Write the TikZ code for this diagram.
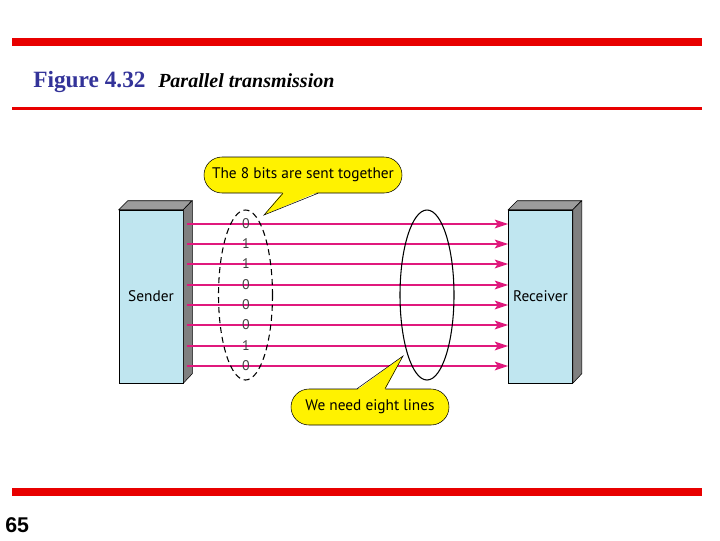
\documentclass[tikz,border=0pt]{standalone}
\usepackage{fontspec}
\setmainfont{Liberation Serif}
\setsansfont{PT Sans}
\newfontfamily\pagefont{Liberation Sans}
\usepackage{tikz}
\usetikzlibrary{arrows.meta,shapes.geometric,shapes.misc}
\definecolor{slidered}{HTML}{E80000}
\definecolor{capblue}{HTML}{333399}
\definecolor{boxblue}{HTML}{C0E6F0}
\definecolor{sidegray}{HTML}{808080}
\definecolor{topgray}{HTML}{9C9C9C}
\definecolor{wire}{HTML}{E0197D}
\definecolor{bubble}{HTML}{FFF200}
\tikzset{station/.style={rectangle,draw=black,fill=boxblue,minimum width=48pt,minimum height=129.75pt,inner sep=0pt,font=\sffamily\fontsize{11.5}{13}\selectfont}}
\tikzset{wireline/.style={draw=wire,line width=1.5pt,-{Stealth[length=10pt,width=6.5pt,inset=2pt]}}}
\tikzset{bit/.style={font=\sffamily\fontsize{10.5}{12}\selectfont,text=black!75,inner sep=0pt}}
\tikzset{bundle/.style={ellipse,draw=black,line width=0.8pt,minimum width=40.5pt,minimum height=127.5pt,inner sep=0pt}}
\tikzset{pill/.style={rounded rectangle,draw=black,fill=bubble,minimum height=27pt,inner sep=0pt,font=\sffamily\fontsize{11.5}{13}\selectfont}}
\tikzset{bar/.style={draw=slidered,line width=6pt}}

\begin{document}
\begin{tikzpicture}[x=0.75pt,y=-0.75pt]
\useasboundingbox (0,0) rectangle (720,540);
% slide frame
\draw[bar] (12,42) -- (702,42);
\draw[slidered,line width=2.25pt] (12,108.5) -- (702,108.5);
\draw[bar] (12,492) -- (702,492);
\node[anchor=base west,inner sep=0pt,text=capblue,font=\fontsize{17.5}{20}\selectfont\bfseries] (fignum) at (33,87) {Figure 4.32};
\node[anchor=base west,inner sep=0pt,font=\fontsize{15}{18}\selectfont\bfseries\itshape] (figtitle) at (158,87) {Parallel transmission};
\node[anchor=base west,inner sep=0pt,font=\pagefont\bfseries\fontsize{16}{18}\selectfont] (pageno) at (5,532) {65};
% the two stations
\node[station] (sender) at (151,296.5) {Sender};
\node[station] (receiver) at (540.5,296.5) {Receiver};
\foreach \st in {sender,receiver} {
  \filldraw[fill=topgray] (\st.north west) -- ++(9,-9) -- ++(64,0) -- (\st.north east) -- cycle;
  \filldraw[fill=sidegray] (\st.north east) -- ++(9,-9) -- ++(0,173) -- (\st.south east) -- cycle;
}
% eight wires
\foreach \b/\yy [count=\i from 0] in {0/224,1/244,1/264,0/285,0/305,0/325,1/346,0/366} {
  \coordinate (s\i) at (187,\yy);
  \draw[wireline] (s\i) -- (receiver.west |- s\i);
  \node[bit] (b\i) at (246,\yy) {\b};
}
\node[bundle,dash pattern=on 4.5pt off 3pt] (sentgrp) at (245.5,295) {};
\node[bundle] (linegrp) at (427,295) {};
% callouts
\node[pill,minimum width=148.5pt] (together) at (303,175) {The 8 bits are sent together};
\coordinate (tip1) at (264,215);
\fill[bubble] ([xshift=-15pt,yshift=1pt]together.south) -- (tip1) -- ([xshift=11.25pt,yshift=1pt]together.south) -- cycle;
\draw ([xshift=-15pt]together.south) -- (tip1) -- ([xshift=11.25pt]together.south);
\node[pill,minimum width=118.5pt] (eight) at (370,407) {We need eight lines};
\coordinate (tip2) at (403,356);
\fill[bubble] ([xshift=-9.75pt,yshift=-1pt]eight.north) -- (tip2) -- ([xshift=11.25pt,yshift=-1pt]eight.north) -- cycle;
\draw ([xshift=-9.75pt]eight.north) -- (tip2) -- ([xshift=11.25pt]eight.north);
\end{tikzpicture}
\end{document}
